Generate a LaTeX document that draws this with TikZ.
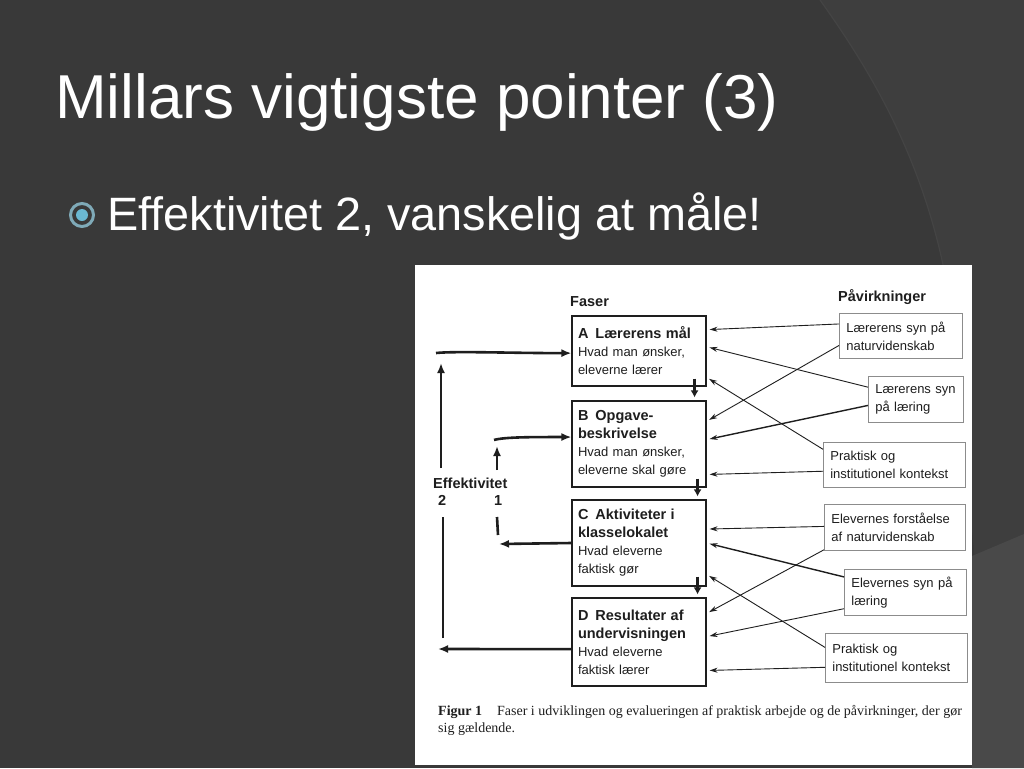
\documentclass[tikz,border=0pt]{standalone}
\usepackage{fontspec}
\setmainfont{Liberation Sans}
\newfontfamily\capfont{Liberation Serif}
\usetikzlibrary{arrows.meta,calc}
\definecolor{bgdark}{HTML}{393939}
\definecolor{bgmid}{HTML}{3E3E3E}
\definecolor{bgedge}{HTML}{444444}
\definecolor{bglight}{HTML}{494949}
\definecolor{ink}{HTML}{1E1E1E}
\definecolor{rgray}{HTML}{8C8C8C}
\definecolor{ringc}{HTML}{7FAAB8}
\definecolor{dotc}{HTML}{6BB8D2}
\newcommand\boxhead[1]{{\fontsize{14.5}{18}\selectfont\bfseries #1}}
\begin{document}
\begin{tikzpicture}[x=1pt,y=-1pt,
  lbox/.style={draw=ink,line width=1.1pt,minimum width=134pt,text width=122pt,
    inner xsep=6pt,inner ysep=0pt,align=left,text=ink,font=\fontsize{13}{18}\selectfont},
  rbox/.style={draw=rgray,line width=0.7pt,inner xsep=7pt,inner ysep=0pt,align=left,
    anchor=north west,text=ink,font=\fontsize{13}{18}\selectfont},
  hdr/.style={anchor=base west,inner sep=0pt,text=ink,font=\fontsize{14.5}{18}\selectfont\bfseries},
  thinarr/.style={draw=ink,line width=0.9pt,-{Stealth[length=8pt,width=5pt]},shorten >=3pt},
  thickarr/.style={draw=ink,line width=2.6pt,-{Latex[length=10pt,width=8pt]}},
  thickline/.style={draw=ink,line width=2.6pt},
  downarr/.style={draw=ink,line width=2.5pt,-{Latex[length=7pt,width=8pt]}}]
\useasboundingbox (0,0) rectangle (1024,768);
% background
\fill[bgdark] (0,0) rectangle (1024,768);
\fill[bgmid] (820,0) .. controls (870,70) and (925,160) .. (948,290) -- (975,560) -- (1024,535) -- (1024,0) -- cycle;
\draw[bgedge,line width=1.2pt] (820,0) .. controls (870,70) and (925,160) .. (948,290);
\fill[bglight] (972,556) -- (1024,534) -- (1024,768) -- (972,768) -- cycle;
% title and bullet
\node[anchor=base west,inner sep=0pt,text=white,font=\fontsize{62}{70}\selectfont] (title) at (55,118) {Millars vigtigste pointer (3)};
\node[circle,draw=ringc,line width=3pt,minimum size=23pt,inner sep=0pt] (icon) at (82,215) {};
\node[circle,fill=dotc,minimum size=12pt,inner sep=0pt] (dot) at (icon) {};
\node[anchor=base west,inner sep=0pt,text=white,font=\fontsize{46.8}{52}\selectfont] (bullet) at (107,230) {Effektivitet 2, vanskelig at måle!};
% figure sheet
\fill[white] (415,265) rectangle (972,765);
% headers
\node[hdr] (faser) at (570,306) {Faser};
\node[hdr] (pav) at (838,301) {Påvirkninger};
% phase boxes
\node[lbox,minimum height=70pt] (A) at (639,351) {\boxhead{A\hspace{7pt}Lærerens mål}\\Hvad man ønsker,\\eleverne lærer};
\node[lbox,minimum height=86pt] (B) at (639,444) {\boxhead{B\hspace{7pt}Opgave-}\\\boxhead{beskrivelse}\\Hvad man ønsker,\\eleverne skal gøre};
\node[lbox,minimum height=86pt] (C) at (639,543) {\boxhead{C\hspace{7pt}Aktiviteter i}\\\boxhead{klasselokalet}\\Hvad eleverne\\faktisk gør};
\node[lbox,minimum height=88pt] (D) at (639,642) {\boxhead{D\hspace{7pt}Resultater af}\\\boxhead{undervisningen}\\Hvad eleverne\\faktisk lærer};
% influence boxes
\node[rbox,minimum width=123pt,text width=109pt,minimum height=45pt] (r1) at (839,313) {Lærerens syn på\\naturvidenskab};
\node[rbox,minimum width=95pt,text width=81pt,minimum height=46pt] (r2) at (868,376) {Lærerens syn\\på læring};
\node[rbox,minimum width=142pt,text width=128pt,minimum height=45pt] (r3) at (823,442) {Praktisk og\\institutionel kontekst};
\node[rbox,minimum width=141pt,text width=127pt,minimum height=46pt] (r4) at (824,504) {Elevernes forståelse\\af naturvidenskab};
\node[rbox,minimum width=122pt,text width=108pt,minimum height=46pt] (r5) at (844,569) {Elevernes syn på\\læring};
\node[rbox,minimum width=142pt,text width=128pt,minimum height=49pt] (r6) at (825,633) {Praktisk og\\institutionel kontekst};
% influence arrows
\draw[thinarr] ($(r1.north west)!0.24!(r1.south west)$) -- ($(A.north east)!0.20!(A.south east)$);
\draw[thinarr] ($(r1.north west)!0.71!(r1.south west)$) -- ($(B.north east)!0.24!(B.south east)$);
\draw[thinarr] ($(r2.north west)!0.24!(r2.south west)$) -- ($(A.north east)!0.44!(A.south east)$);
\draw[thinarr,line width=1.4pt] ($(r2.north west)!0.63!(r2.south west)$) -- ($(B.north east)!0.45!(B.south east)$);
\draw[thinarr] ($(r3.north west)!0.16!(r3.south west)$) -- ($(A.north east)!0.87!(A.south east)$);
\draw[thinarr] ($(r3.north west)!0.64!(r3.south west)$) -- ($(B.north east)!0.85!(B.south east)$);
\draw[thinarr] ($(r4.north west)!0.48!(r4.south west)$) -- ($(C.north east)!0.34!(C.south east)$);
\draw[thinarr] ($(r4.north west)!0.98!(r4.south west)$) -- ($(D.north east)!0.18!(D.south east)$);
\draw[thinarr,line width=1.4pt] ($(r5.north west)!0.17!(r5.south west)$) -- ($(C.north east)!0.50!(C.south east)$);
\draw[thinarr] ($(r5.north west)!0.85!(r5.south west)$) -- ($(D.north east)!0.44!(D.south east)$);
\draw[thinarr] ($(r6.north west)!0.29!(r6.south west)$) -- ($(C.north east)!0.86!(C.south east)$);
\draw[thinarr] ($(r6.north west)!0.69!(r6.south west)$) -- ($(D.north east)!0.82!(D.south east)$);
% phase sequence arrows
\draw[downarr] ($(A.south east)+(-12,-8)$) -- ($(B.north east)+(-12,-3)$);
\draw[downarr] ($(B.south east)+(-9,-9)$) -- ($(C.north east)+(-9,-3)$);
\draw[downarr] ($(C.south east)+(-9,-10)$) -- ($(D.north east)+(-9,-3)$);
% effectiveness labels
\node[hdr] (eff) at (433,488) {Effektivitet};
\node[hdr] (n2) at (438,505) {2};
\node[hdr] (n1) at (494,505) {1};
% free ends of feedback loops
\coordinate (f2a) at (438,649);
\coordinate (f2b) at (443,638);
\coordinate (f2c) at (443,517);
\coordinate (f2d) at (441,468);
\coordinate (f2e) at (441,363);
\coordinate (f2f) at (436,353);
\coordinate (f1a) at (499,544);
\coordinate (f1b) at (498,535);
\coordinate (f1c) at (497,517);
\coordinate (f1d) at (497,470);
\coordinate (f1e) at (497,446);
\coordinate (f1f) at (494,440);
% feedback 2
\draw[thickarr] ($(D.north west)!0.58!(D.south west)$) -- (f2a);
\draw[thickline] (f2b) -- (f2c);
\draw[thickarr] (f2d) -- (f2e);
\draw[thickarr] (f2f) .. controls +(20,-2) and +(-60,0) .. ($(A.north west)!0.53!(A.south west)$);
% feedback 1
\draw[thickarr] ($(C.north west)!0.50!(C.south west)$) -- (f1a);
\draw[thickline] (f1b) -- (f1c);
\draw[thickarr] (f1d) -- (f1e);
\draw[thickarr] (f1f) .. controls +(10,-3) and +(-40,0) .. ($(B.north west)!0.42!(B.south west)$);
% caption
\node[anchor=base west,inner sep=0pt,text=ink,font=\capfont\fontsize{14}{17}\selectfont] (cap1) at (438,715) {\textbf{Figur 1}\hspace{15pt}Faser i udviklingen og evalueringen af praktisk arbejde og de påvirkninger, der gør};
\node[anchor=base west,inner sep=0pt,text=ink,font=\capfont\fontsize{14}{17}\selectfont] (cap2) at (438,732) {sig gældende.};
\end{tikzpicture}
\end{document}
